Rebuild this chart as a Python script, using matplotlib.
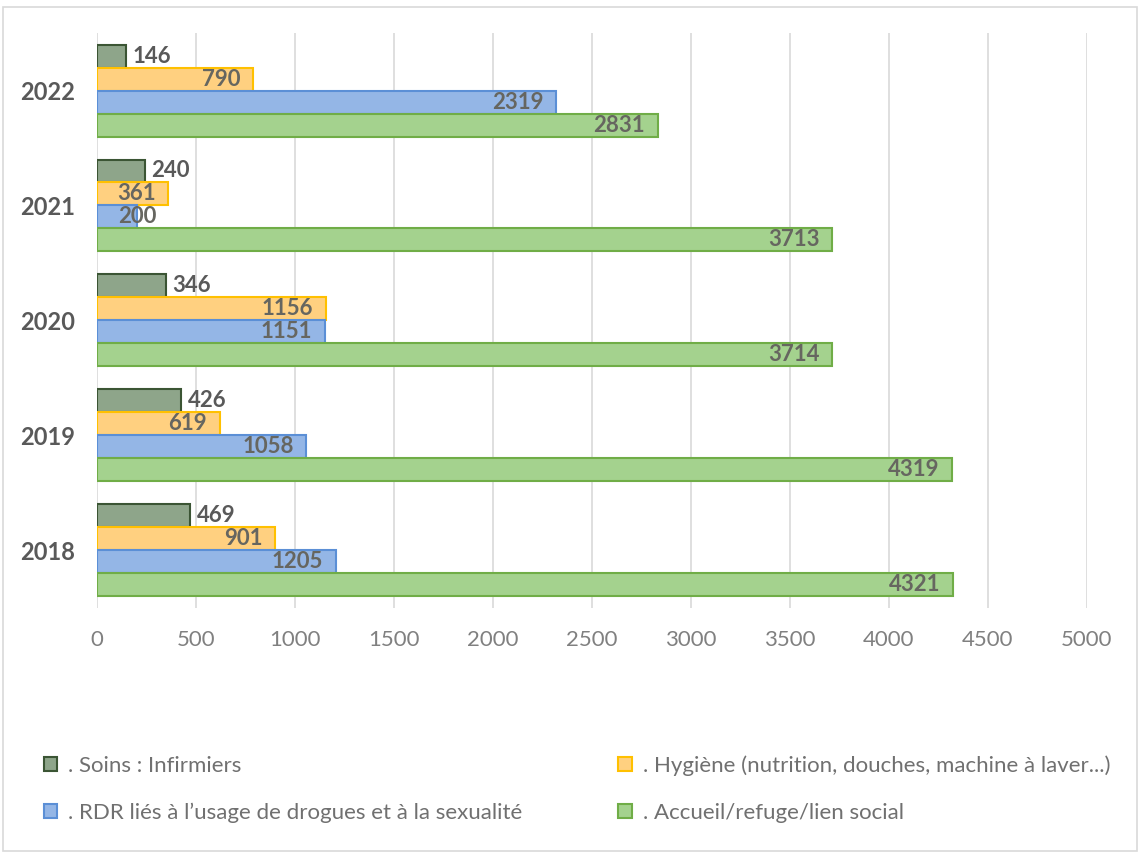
import numpy as np
from matplotlib import pyplot as plt
from matplotlib.patches import Rectangle

plt.rcParams['font.family'] = ['Lato', 'DejaVu Sans']

years = ['2018', '2019', '2020', '2021', '2022']
soins = [469, 426, 346, 240, 146]
hygiene = [901, 619, 1156, 361, 790]
rdr = [1205, 1058, 1151, 200, 2319]
accueil = [4321, 4319, 3714, 3713, 2831]

series = [
    ('. Soins : Infirmiers', soins, '#8ea58a', '#3b5534'),
    ('. Hygiène (nutrition, douches, machine à laver...)', hygiene, '#ffd080', '#ffc000'),
    ('. RDR liés à l\u2019usage de drogues et à la sexualité', rdr, '#94b6e6', '#5b8fd6'),
    ('. Accueil/refuge/lien social', accueil, '#a4d28e', '#70ad47'),
]

fig = plt.figure(figsize=(11.4, 8.55), dpi=100)
ax = fig.add_axes([0.0851, 0.2889, 0.8684, 0.6725])

y = np.arange(len(years))
h = 0.2
handles = []
for i, (name, vals, fc, ec) in enumerate(series):
    pos = y + 0.3 - i * h
    bars = ax.barh(pos, vals, height=h, color=fc, edgecolor=ec, linewidth=1.5, label=name, zorder=3)
    handles.append(bars)
    for p, v in zip(pos, vals):
        if i == 0:
            # outside end
            ax.annotate(str(v), xy=(v, p), xytext=(5, 0), textcoords='offset points',
                        ha='left', va='center', fontsize=16, fontweight='bold', color='#595959', zorder=4)
        elif v < 300:
            # too short to hold its label: start it just right of the axis
            ax.annotate(str(v), xy=(0, p), xytext=(15, 0), textcoords='offset points',
                        ha='left', va='center', fontsize=16, fontweight='bold', color='#666660', zorder=4)
        else:
            ax.annotate(str(v), xy=(v, p), xytext=(-9, 0), textcoords='offset points',
                        ha='right', va='center', fontsize=16, fontweight='bold', color='#666660', zorder=4)

ax.set_xlim(0, 5000)
ax.set_ylim(-0.5, 4.5)
ax.set_xticks(np.arange(0, 5001, 500))
ax.set_yticks(y)
ax.set_yticklabels(years, fontsize=17, fontweight='bold', color='#595959')
ax.tick_params(axis='x', length=0, pad=16, labelsize=16, labelcolor='#808080')
ax.tick_params(axis='y', length=0, pad=16)
ax.grid(axis='x', color='#d9d9d9', linewidth=1.2, zorder=0)
for s in ax.spines.values():
    s.set_visible(False)

order = [handles[0], handles[2], handles[1], handles[3]]
leg = fig.legend(order, [hh.get_label() for hh in order], ncol=2, loc='upper left',
                 bbox_to_anchor=(0.021, 0.14), frameon=False, fontsize=16,
                 handlelength=0.6, handleheight=0.6, handletextpad=0.5,
                 columnspacing=4.3, labelspacing=1.2)
for t in leg.get_texts():
    t.set_color('#707070')

fig.patches.append(Rectangle((3 / 1140, 4 / 855), 1134 / 1140, 844 / 855,
                             transform=fig.transFigure, fill=False,
                             edgecolor='#d9d9d9', linewidth=1.2))

fig.savefig('out.png', dpi=100)
